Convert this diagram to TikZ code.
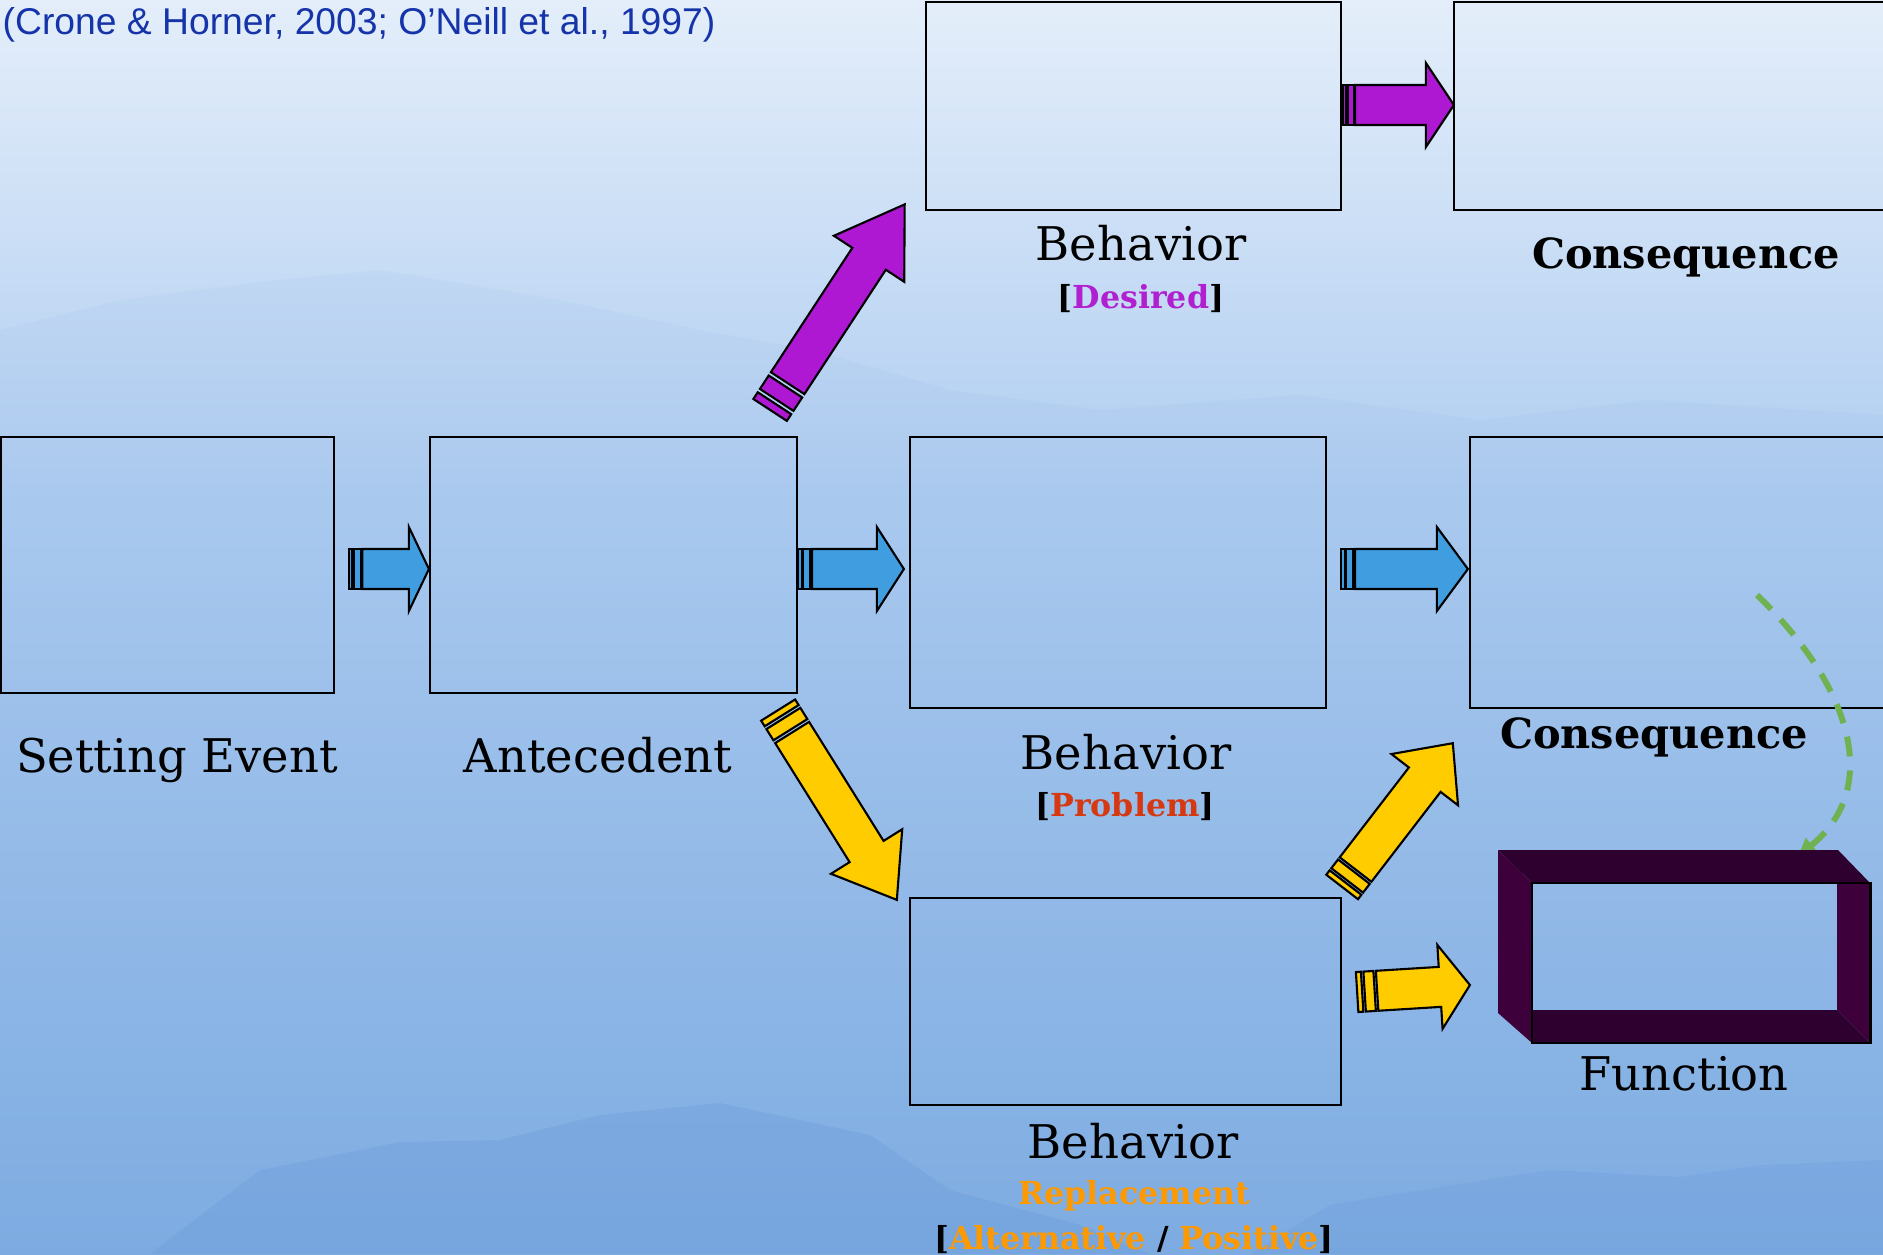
\documentclass[tikz,border=0pt]{standalone}
\usepackage{fontspec}
\setmainfont{DejaVu Serif}
\newfontfamily\citefont{Liberation Sans}
\usetikzlibrary{calc,arrows.meta}

\definecolor{skytop}{RGB}{228,238,250}
\definecolor{skymid}{RGB}{172,203,240}
\definecolor{skybot}{RGB}{127,173,226}
\definecolor{ridge}{RGB}{95,145,212}
\definecolor{arrblue}{RGB}{64,158,224}
\definecolor{arrpurple}{RGB}{174,24,210}
\definecolor{arryellow}{RGB}{255,204,0}
\definecolor{desired}{RGB}{176,32,208}
\definecolor{problem}{RGB}{214,56,18}
\definecolor{replace}{RGB}{255,153,0}
\definecolor{citeblue}{RGB}{22,52,170}
\definecolor{loopgreen}{RGB}{112,178,82}
\definecolor{frametop}{RGB}{45,0,48}
\definecolor{frameside}{RGB}{62,0,58}

\tikzset{
  box/.style={draw, line width=0.6pt, inner sep=0pt, outer sep=0pt},
  lbl/.style={font=\fontsize{13.2}{16}\selectfont, inner sep=0pt},
  lblbold/.style={font=\fontsize{11.8}{14}\selectfont\bfseries, inner sep=0pt},
  tag/.style={font=\fontsize{9}{11}\selectfont\bfseries, inner sep=0pt},
}

% striped block arrow: fill, from, to, head length, stripe width
\newcommand{\stripearrow}[5]{%
  \path let \p1=($(#3)-(#2)$) in
    \pgfextra{\pgfmathparse{atan2(\y1,\x1)}\xdef\arrang{\pgfmathresult}%
      \pgfmathparse{veclen(\x1,\y1)}\xdef\arrlen{\pgfmathresult}};
  \begin{scope}[shift={(#2)}, rotate=\arrang,
      arrowpart/.style={draw=black, line width=0.6pt, line join=miter, fill=#1}]
    \path[arrowpart] (0pt,-0.2cm) rectangle (#5,0.2cm);
    \path[arrowpart] ({1.5*#5},-0.2cm) rectangle ({3.5*#5},0.2cm);
    \path[arrowpart] ({4*#5},-0.2cm) -- ({\arrlen pt-#4},-0.2cm) -- ({\arrlen pt-#4},-0.42cm)
      -- (\arrlen pt,0pt) -- ({\arrlen pt-#4},0.42cm) -- ({\arrlen pt-#4},0.2cm)
      -- ({4*#5},0.2cm) -- cycle;
  \end{scope}}

\begin{document}
\begin{tikzpicture}[x=0.01cm, y=-0.01cm]
\useasboundingbox (0,0) rectangle (1883,1254);
\clip (0,0) rectangle (1883,1254);

% sky and hills
\shade[top color=skytop, bottom color=skymid] (0,0) rectangle (1883,520);
\shade[top color=skymid, bottom color=skybot] (0,520) rectangle (1883,1254);
\fill[ridge, opacity=0.05] (0,330) -- (120,300) -- (260,282) -- (380,270) -- (470,285)
  -- (560,300) -- (700,330) -- (820,352) -- (950,390) -- (1100,410) -- (1300,395)
  -- (1480,420) -- (1650,400) -- (1883,415) -- (1883,1254) -- (0,1254) -- cycle;
\fill[ridge, opacity=0.22] (150,1254) -- (260,1170) -- (400,1142) -- (500,1140) -- (600,1115)
  -- (720,1103) -- (800,1120) -- (870,1135) -- (950,1190) -- (1080,1225) -- (1150,1254) -- cycle;
\fill[ridge, opacity=0.18] (1250,1254) -- (1330,1205) -- (1420,1190) -- (1550,1170)
  -- (1680,1177) -- (1760,1165) -- (1883,1160) -- (1883,1254) -- cycle;

% boxes
\node[box, minimum width=3.33cm, minimum height=2.56cm] (setting) at (167.5,565) {};
\node[box, minimum width=3.67cm, minimum height=2.56cm] (antecedent) at (613.5,565) {};
\node[box, minimum width=4.16cm, minimum height=2.71cm] (probbeh) at (1118,572.5) {};
\node[box, minimum width=4.25cm, minimum height=2.71cm] (conseqmid) at (1682.5,572.5) {};
\node[box, minimum width=4.15cm, minimum height=2.08cm] (desbeh) at (1133.5,106) {};
\node[box, minimum width=4.41cm, minimum height=2.08cm] (conseqtop) at (1674.5,106) {};
\node[box, minimum width=4.31cm, minimum height=2.07cm] (repbeh) at (1125.5,1001.5) {};

% dashed loop to function
\coordinate (loopstart) at ($(conseqmid.center)+(74.5,22.5)$);
\coordinate (loopend) at (1798,856);
\draw[loopgreen, line width=1.7pt, dash pattern=on 0.2cm off 0.14cm,
  -{Triangle[length=5pt,width=5pt]}]
  (loopstart) .. controls (1855,690) and (1880,790) .. (loopend);

% function frame
\fill[frametop] (1498,850) -- (1838,850) -- (1870,883) -- (1532,883) -- cycle;
\fill[frameside] (1498,850) -- (1532,883) -- (1532,1043) -- (1498,1013) -- cycle;
\fill[frameside] (1837,883) -- (1870,883) -- (1870,1043) -- (1837,1010) -- cycle;
\fill[frametop] (1532,1010) -- (1837,1010) -- (1870,1043) -- (1532,1043) -- cycle;
\node[box, line width=0.8pt, minimum width=3.38cm, minimum height=1.60cm] (fun) at (1701,963) {};

% arrow ends
\coordinate (bA1) at ($(setting.east)+(15,4)$);
\coordinate (bA2) at ($(antecedent.west)+(-1,4)$);
\coordinate (bB1) at ($(antecedent.east)+(1,4)$);
\coordinate (bB2) at ($(probbeh.west)+(-6,-3.5)$);
\coordinate (bC1) at ($(probbeh.east)+(15,-3.5)$);
\coordinate (bC2) at ($(conseqmid.west)+(-2,-3.5)$);
\coordinate (pH1) at ($(desbeh.east)+(2,-1)$);
\coordinate (pH2) at ($(conseqtop.west)+(0,-1)$);
\coordinate (pD1) at ($(antecedent.north east)+(-27,-27)$);
\coordinate (pD2) at ($(desbeh.south west)+(-21,-6)$);
\coordinate (yD1) at ($(antecedent.south east)+(-19,17)$);
\coordinate (yD2) at ($(repbeh.north west)+(-13,2)$);
\coordinate (yU1) at ($(repbeh.north east)+(1,-11)$);
\coordinate (yU2) at ($(conseqmid.south west)+(-17,35)$);
\coordinate (yH1) at ($(repbeh.east)+(16,-9.5)$);
\coordinate (yH2) at ($(fun.west)+(-62,22)$);

\stripearrow{arrblue}{bA1}{bA2}{0.20cm}{0.033cm}
\stripearrow{arrblue}{bB1}{bB2}{0.27cm}{0.035cm}
\stripearrow{arrblue}{bC1}{bC2}{0.31cm}{0.035cm}
\stripearrow{arrpurple}{pH1}{pH2}{0.28cm}{0.03cm}
\stripearrow{arrpurple}{pD1}{pD2}{0.65cm}{0.08cm}
\stripearrow{arryellow}{yD1}{yD2}{0.57cm}{0.066cm}
\stripearrow{arryellow}{yU1}{yU2}{0.46cm}{0.055cm}
\stripearrow{arryellow}{yH1}{yH2}{0.30cm}{0.05cm}

% labels
\node[anchor=base west, inner sep=0pt, text=citeblue, font=\citefont\fontsize{10.6}{12}\selectfont]
  (cite) at (2,34) {(Crone \& Horner, 2003; O’Neill et al., 1997)};
\node[lbl, anchor=base] (setlbl) at (177,772) {Setting Event};
\node[lbl, anchor=base] (antlbl) at (598,772) {Antecedent};
\node[lbl, anchor=base] (problbl) at (1126,769) {Behavior};
\node[tag, anchor=base] (probtag) at (1125,816) {[\textcolor{problem}{Problem}]};
\node[lbl, anchor=base] (deslbl) at (1141,260) {Behavior};
\node[tag, anchor=base] (destag) at (1141,308) {[\textcolor{desired}{Desired}]};
\node[lblbold, anchor=base] (ctoplbl) at (1686,268) {Consequence};
\node[lblbold, anchor=base] (cmidlbl) at (1654,748) {Consequence};
\node[lbl, anchor=base] (funlbl) at (1684,1090) {Function};
\node[lbl, anchor=base] (replbl) at (1133,1158) {Behavior};
\node[tag, anchor=base, text=replace] (reptag) at (1134,1204) {Replacement};
\node[tag, anchor=base] (alttag) at (1134,1249)
  {[\textcolor{replace}{Alternative} / \textcolor{replace}{Positive}]};
\end{tikzpicture}
\end{document}
